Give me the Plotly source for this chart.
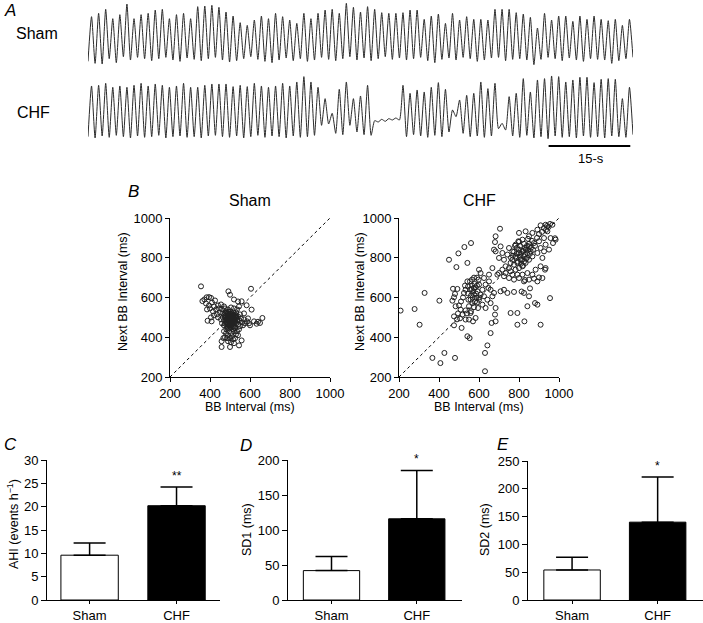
import plotly.graph_objects as go

W, H = 703, 623

# %% Panel A: respiratory traces, one peak and one trough value per breath (a.u.)
sham_peaks = [75, 80, 86, 72, 78, 94, 72, 78, 80, 85,
              86, 72, 78, 80, 72, 90, 91, 92, 89, 82,
              76, 66, 62, 70, 76, 72, 80, 75, 70, 65,
              80, 72, 80, 85, 86, 80, 95, 89, 82, 90,
              86, 81, 80, 80, 81, 85, 85, 71, 76, 79,
              65, 80, 70, 75, 71, 71, 70, 86, 86, 86,
              81, 79, 74, 58, 80, 70, 76, 76, 68, 76,
              71, 76, 71, 69, 71, 62, 71]
sham_troughs = [8, 5, 4, 12, 6, 15, 10, 14, 12, 9,
                12, 14, 10, 8, 13, 11, 9, 12, 14, 10,
                7, 9, 12, 15, 11, 8, 6, 10, 13, 9,
                12, 8, 10, 14, 11, 9, 12, 15, 10, 13,
                9, 12, 15, 11, 13, 10, 12, 14, 9, 6,
                11, 13, 10, 14, 12, 8, 10, 13, 14, 9,
                11, 12, 10, 3, 11, 14, 12, 9, 13, 10,
                8, 12, 11, 10, 5, 9, 12, 14]
chf_peaks = [81, 82, 85, 79, 81, 79, 82, 85, 81, 84,
             82, 79, 81, 85, 79, 79, 82, 84, 84, 84,
             80, 82, 80, 85, 81, 79, 81, 85, 81, 87,
             95, 87, 79,
             62, 40, 76, 87, 62, 66, 82,
             29, 31, 32, 33,
             82, 70, 75, 72, 79, 86, 76,
             45, 60, 67, 70, 87, 77, 85,
             25,
             65, 70, 92, 72, 90, 92, 96, 95, 87, 90,
             94, 94, 86, 91, 92, 91, 62, 79]
chf_troughs = [5, 3, 6, 4, 7, 5, 3, 6, 4, 5,
               7, 3, 5, 6, 4, 5, 3, 6, 7, 5,
               4, 6, 3, 5, 7, 4, 6, 5, 3, 6,
               4, 5, 7,
               22, 24, 10, 8, 22, 12, 8,
               7, 27, 28, 30,
               30, 5, 8, 6, 4, 7, 5,
               12, 35, 10, 5, 6, 4, 6,
               17,
               15, 6, 4, 7, 3, 5, 2, 6, 4, 5,
               3, 6, 4, 5, 3, 6, 5, 4, 8]
breath_s = 1.3
scale_bar_s = 15
scale_bar_end_s = 99.6

# %% Panel B: Poincare plots (ms)
sham_bb = [355, 362, 372, 383, 395, 405, 492, 500, 605, 558,
           583, 608, 662, 650, 633, 640, 388, 408, 458, 467,
           458, 500, 545, 558, 525, 620, 595, 570, 540, 520,
           380, 395, 410, 420, 400, 385, 425, 440, 430, 415,
           445, 455, 460, 470, 450, 435, 420, 405, 440, 465,
           480, 490, 500, 510, 520, 530, 540, 550, 475, 485,
           495, 505, 515, 525, 535, 545, 555, 470, 480, 490,
           500, 510, 520, 530, 540, 460, 470, 485, 495, 505,
           515, 525, 490, 505, 520, 535, 545, 475, 465, 455,
           560, 570, 575, 565, 585, 590, 600, 550, 500, 512,
           498, 488, 508, 518, 528, 478, 493, 503, 482, 495,
           505, 490, 510, 520, 530, 500, 515, 480, 470, 525,
           535, 545, 485, 475, 520, 505, 490, 540, 495, 515,
           472, 478, 483, 487, 492, 497, 502, 507, 512, 517,
           522, 527, 532, 537, 476, 481, 486, 491, 496, 501,
           506, 511, 516, 521, 526, 531, 488, 494, 499, 504,
           509, 514, 519, 484, 489, 494, 499, 504, 509, 514]
sham_next = [656, 582, 590, 601, 602, 598, 631, 614, 644, 581,
             561, 539, 497, 472, 468, 478, 483, 480, 380, 396,
             351, 351, 359, 384, 446, 480, 470, 520, 580, 590,
             570, 560, 575, 555, 545, 540, 585, 560, 540, 530,
             545, 565, 540, 555, 525, 515, 510, 500, 500, 520,
             530, 520, 530, 520, 510, 525, 505, 515, 505, 495,
             505, 495, 490, 500, 490, 485, 495, 485, 475, 485,
             475, 470, 480, 470, 465, 470, 460, 455, 460, 450,
             455, 445, 540, 550, 545, 540, 555, 545, 500, 490,
             475, 490, 470, 460, 480, 495, 460, 455, 510, 505,
             490, 510, 485, 525, 512, 520, 470, 465, 440, 430,
             420, 410, 405, 430, 415, 395, 390, 420, 430, 395,
             430, 440, 395, 400, 370, 375, 380, 410, 445, 440,
             512, 498, 523, 488, 508, 482, 518, 503, 488, 512,
             493, 478, 498, 483, 468, 488, 473, 528, 463, 483,
             513, 478, 503, 468, 488, 508, 448, 493, 473, 458,
             493, 468, 453, 503, 463, 518, 498, 508, 478, 498]

chf_bb = [208, 278, 303, 328, 402, 367, 407, 427, 480, 450,
          487, 497, 527, 560, 542, 470, 492, 480, 467, 475,
          483, 508, 517, 475, 475, 513, 542, 553, 533, 550,
          570, 583, 547, 558, 567, 550, 575, 533, 558, 542,
          555, 575, 563, 583, 592, 587, 595, 575, 533, 525,
          600,
          565, 578, 590, 572, 585, 560, 545, 555, 568, 580,
          590, 600, 598, 590, 575, 565, 545, 530, 520, 510,
          500, 495, 505, 490, 560, 540,
          705, 683, 680, 675, 683, 708, 717, 700, 725, 742,
          750, 767, 783, 800, 797, 817, 833, 850, 867, 892,
          908, 933, 967, 942, 958, 983, 925, 900, 875, 850,
          833, 817, 800, 783, 767, 758, 775, 792, 808, 825,
          842, 858, 867, 850, 833, 817, 800, 783, 750, 733,
          717, 700, 725, 750, 775, 800, 825, 850, 875, 900,
          908, 933, 917, 892, 908, 933, 950, 970, 883, 925,
          667, 650, 625, 608, 633, 658, 667, 642, 617, 633,
          658, 683, 680, 683, 663, 675, 708, 725, 742, 775,
          825, 850, 842, 892, 908, 792, 758, 792, 658, 642,
          630, 630, 600, 617, 608, 647, 650, 692, 733, 758,
          767, 792, 817, 842, 867, 892, 917, 600, 625,
          810, 820, 830, 840, 805, 815, 825, 835, 845, 855,
          800, 790, 785, 795, 810, 820, 830, 840, 850, 860,
          870, 880, 865, 845, 825, 805, 790, 775, 770, 760,
          780, 800, 890, 900, 915, 925, 940, 955, 948, 935,
          955, 930, 855, 830, 813, 980, 880, 827]
chf_next = [534, 542, 463, 623, 584, 296, 270, 321, 296, 790,
            753, 822, 854, 874, 774, 644, 643, 618, 584, 601,
            556, 539, 514, 505, 460, 447, 405, 396, 489, 489,
            480, 497, 589, 589, 572, 556, 551, 535, 522, 681,
            681, 648, 643, 651, 631, 598, 547, 614, 639, 623,
            740,
            660, 668, 660, 630, 620, 610, 620, 640, 600, 580,
            575, 600, 690, 700, 700, 690, 655, 660, 600, 580,
            560, 520, 495, 490, 530, 520,
            946, 908, 879, 841, 832, 857, 824, 799, 790, 816,
            849, 832, 866, 925, 883, 891, 933, 908, 925, 941,
            963, 966, 966, 933, 899, 891, 899, 883, 874, 857,
            841, 832, 824, 807, 790, 774, 765, 774, 790, 807,
            824, 832, 807, 790, 774, 757, 748, 740, 748, 757,
            740, 723, 707, 698, 690, 698, 681, 690, 695, 701,
            757, 748, 799, 824, 849, 866, 841, 874, 740, 832,
            748, 715, 698, 723, 665, 639, 606, 589, 564, 547,
            572, 547, 514, 480, 472, 623, 631, 639, 623, 628,
            623, 606, 556, 564, 463, 463, 522, 522, 421, 359,
            321, 229, 665, 639, 614, 648, 681, 715, 723, 732,
            715, 715, 715, 723, 715, 681, 698, 589, 606,
            820, 835, 815, 800, 805, 790, 780, 795, 840, 820,
            840, 820, 800, 780, 770, 760, 850, 860, 870, 850,
            840, 860, 885, 895, 870, 860, 850, 830, 810, 800,
            860, 880, 900, 920, 930, 950, 960, 970, 955, 940,
            597, 740, 646, 688, 630, 898, 572, 480]
poincare_ticks = [200, 400, 600, 800, 1000]

# %% Panels C-E: group means with upward SEM bars
groups = ['Sham', 'CHF']
ahi_mean = [9.6, 20.2]
ahi_err = [2.6, 4.0]
sd1_mean = [42, 116]
sd1_err = [20, 69]
sd2_mean = [54, 140]
sd2_err = [23, 81]
stars = ['**', '*', '*']

FONT = 'Liberation Sans, Arial, sans-serif'


def px(x):
    return x / W


def py(y):
    return 1 - y / H


def wave(peaks, troughs):
    ys = []
    for i, p in enumerate(peaks):
        ys += [troughs[i], p]
    ys += troughs[len(peaks):]
    t = [k * breath_s / 2 for k in range(len(ys))]
    return t, ys


fig = go.Figure()

# A
for tr, (pk, tg) in zip(['', '2'], [(sham_peaks, sham_troughs), (chf_peaks, chf_troughs)]):
    t, ys = wave(pk, tg)
    fig.add_trace(go.Scatter(x=t, y=ys, mode='lines', xaxis='x' + tr, yaxis='y' + tr,
                             line=dict(color='#2b2b2b', width=1, shape='spline', smoothing=0.6),
                             hoverinfo='skip'))

# B
for tr, (bx, by) in zip(['3', '4'], [(sham_bb, sham_next), (chf_bb, chf_next)]):
    fig.add_trace(go.Scatter(x=[200, 1000], y=[200, 1000], mode='lines',
                             xaxis='x' + tr, yaxis='y' + tr,
                             line=dict(color='black', width=1, dash='dot')))
    fig.add_trace(go.Scatter(x=bx, y=by, mode='markers', xaxis='x' + tr, yaxis='y' + tr,
                             marker=dict(symbol='circle-open', size=5, color='#222',
                                         line=dict(width=1))))

# C-E
for tr, m, e in zip(['5', '6', '7'], [ahi_mean, sd1_mean, sd2_mean], [ahi_err, sd1_err, sd2_err]):
    fig.add_trace(go.Bar(x=groups, y=m, width=0.66, xaxis='x' + tr, yaxis='y' + tr,
                         marker=dict(color=['white', 'black'], line=dict(color='black', width=1)),
                         error_y=dict(type='data', array=e, arrayminus=[0, 0], symmetric=False,
                                      color='black', thickness=1.5, width=16)))

hidden = dict(visible=False, showgrid=False, zeroline=False, automargin=False)
t_end = len(sham_peaks) * breath_s


def poincare_axis(domain, anchor):
    return dict(domain=domain, anchor=anchor, range=[200, 1000], tickvals=poincare_ticks,
                ticks='outside', ticklen=4, tickcolor='black', showline=True,
                linecolor='black', linewidth=1, showgrid=False, zeroline=False,
                tickfont=dict(size=13), automargin=False)


def bar_x(domain, anchor, rng):
    return dict(domain=domain, anchor=anchor, type='category', range=rng,
                ticks='outside', ticklen=3, tickcolor='black', showline=True,
                linecolor='black', linewidth=1, showgrid=False, tickfont=dict(size=13),
                automargin=False)


def bar_y(domain, anchor, top, step):
    return dict(domain=domain, anchor=anchor, range=[0, top], dtick=step,
                ticks='outside', ticklen=5, tickcolor='black', showline=True,
                linecolor='black', linewidth=1, showgrid=False, zeroline=False,
                tickfont=dict(size=13), automargin=False)


fig.update_layout(
    width=W, height=H, margin=dict(l=0, r=0, t=0, b=0, autoexpand=False),
    paper_bgcolor='white', plot_bgcolor='white', showlegend=False,
    font=dict(family=FONT, color='black', size=13),
    xaxis=dict(domain=[px(88), px(633)], anchor='y', range=[0, t_end], **hidden),
    yaxis=dict(domain=[py(66.7), 1], anchor='x', range=[0, 100], **hidden),
    xaxis2=dict(domain=[px(88), px(633)], anchor='y2', range=[0, t_end], **hidden),
    yaxis2=dict(domain=[py(140), py(73.3)], anchor='x2', range=[0, 100], **hidden),
    xaxis3=poincare_axis([px(170), px(330)], 'y3'),
    yaxis3=poincare_axis([py(377), py(218)], 'x3'),
    xaxis4=poincare_axis([px(399), px(559)], 'y4'),
    yaxis4=poincare_axis([py(377), py(218)], 'x4'),
    xaxis5=bar_x([px(47), px(220)], 'y5', [-0.49, 1.5]),
    yaxis5=bar_y([py(600), py(460)], 'x5', 30, 5),
    xaxis6=bar_x([px(288), px(462)], 'y6', [-0.51, 1.53]),
    yaxis6=bar_y([py(600), py(460)], 'x6', 200, 50),
    xaxis7=bar_x([px(528), 1], 'y7', [-0.515, 1.53]),
    yaxis7=bar_y([py(600), py(461)], 'x7', 250, 50),
)

# scale bar on the CHF trace time axis
fig.add_shape(type='line', xref='x2', yref='paper', x0=scale_bar_end_s - scale_bar_s,
              x1=scale_bar_end_s, y0=py(146), y1=py(146), line=dict(color='black', width=2))


def note(text, x, y, size=13, angle=0, xanchor='center', italic=False):
    if italic:
        text = '<i>' + text + '</i>'
    fig.add_annotation(text=text, x=px(x), y=py(y), xref='paper', yref='paper',
                       showarrow=False, xanchor=xanchor, yanchor='middle', textangle=angle,
                       font=dict(size=size, family=FONT, color='black'))


note('A', 10, 11, 17, italic=True)
note('Sham', 14, 33, 16, xanchor='left')
note('CHF', 15, 113, 16, xanchor='left')
note('15-s', 591, 158, 13)

note('B', 133, 192, 17, italic=True)
note('Sham', 250, 200, 16)
note('CHF', 479, 200, 16)
note('Next BB Interval (ms)', 123, 292, 12.5, angle=-90)
note('Next BB Interval (ms)', 360, 292, 12.5, angle=-90)
note('BB Interval (ms)', 250, 407, 12.5)
note('BB Interval (ms)', 479, 407, 12.5)

note('C', 10, 444, 17, italic=True)
note('D', 246, 445, 17, italic=True)
note('E', 503, 444, 17, italic=True)
note('AHI (events h<sup>\u22121</sup>)', 13, 524, 12.5, angle=-90)
note('SD1 (ms)', 247, 530, 12.5, angle=-90)
note('SD2 (ms)', 485, 530, 12.5, angle=-90)

for tr, m, e, s in zip(['5', '6', '7'], [ahi_mean, sd1_mean, sd2_mean],
                       [ahi_err, sd1_err, sd2_err], stars):
    fig.add_annotation(text=s, x='CHF', y=m[1] + e[1], xref='x' + tr, yref='y' + tr,
                       showarrow=False, yanchor='bottom', yshift=2,
                       font=dict(size=12, family=FONT, color='black'))

fig.write_html("out.html", config={'displayModeBar': False},
               post_script="document.body.style.margin='0';")
